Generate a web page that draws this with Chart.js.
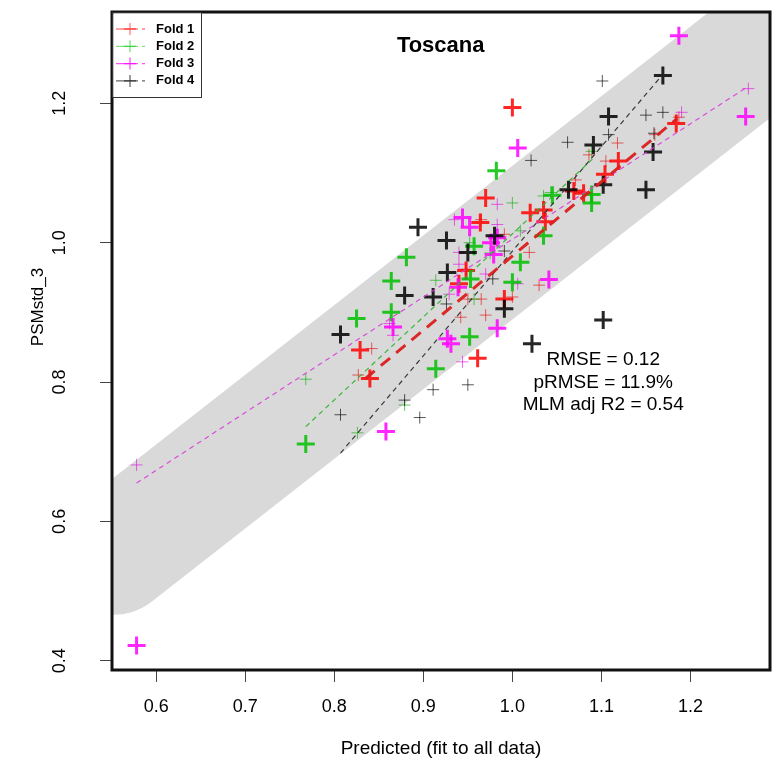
<!DOCTYPE html>
<html>
<head>
<meta charset="utf-8">
<script src="https://cdn.jsdelivr.net/npm/chart.js@4.4.0/dist/chart.umd.min.js"></script>
<style>
html, body { margin: 0; padding: 0; background: #fff; }
</style>
</head>
<body>
<canvas id="myChart" width="782" height="763"></canvas>
<script>
// axis ticks
const xTicks = [0.6, 0.7, 0.8, 0.9, 1.0, 1.1, 1.2];
const yTicks = [0.4, 0.6, 0.8, 1.0, 1.2];

// fold 1 (red)
const f1BigX = [1.000, 0.970, 0.964, 1.020, 1.035, 1.037, 0.948, 0.940, 0.991, 0.829, 0.840, 0.961, 1.069, 1.080, 1.104, 1.119, 1.184];
const f1BigY = [1.194, 1.064, 1.029, 1.043, 1.047, 1.030, 0.960, 0.941, 0.919, 0.846, 0.805, 0.834, 1.074, 1.071, 1.098, 1.117, 1.171];
const f1SmallX = [0.842, 0.827, 1.019, 0.950, 0.965, 0.942, 0.970, 1.030, 1.000, 0.991, 0.948, 1.118, 1.105, 1.086, 1.071, 1.160, 0.965, 1.187];
const f1SmallY = [0.848, 0.810, 0.986, 0.919, 0.919, 0.893, 0.896, 0.939, 0.922, 1.012, 0.962, 1.143, 1.117, 1.126, 1.090, 1.155, 1.033, 1.180];
const f1LineX = [0.835, 1.185];
const f1LineY = [0.805, 1.178];

// fold 2 (green)
const f2BigX = [0.982, 0.881, 0.864, 0.864, 0.825, 0.914, 0.952, 0.957, 0.953, 1.009, 1.000, 1.035, 0.768, 1.089, 1.089, 1.045];
const f2BigY = [1.103, 0.979, 0.945, 0.900, 0.891, 0.819, 0.865, 0.995, 0.948, 0.972, 0.943, 1.010, 0.711, 1.069, 1.057, 1.068];
const f2SmallX = [0.768, 0.826, 0.879, 0.914, 1.000, 0.957, 1.043, 0.952, 1.035, 1.089, 1.009, 0.975];
const f2SmallY = [0.804, 0.727, 0.767, 0.946, 1.057, 0.919, 1.072, 1.000, 1.067, 1.131, 1.017, 0.985];
const f2LineX = [0.768, 1.090];
const f2LineY = [0.736, 1.120];

// fold 3 (magenta)
const f3BigX = [1.187, 1.006, 1.262, 0.578, 0.858, 1.041, 0.983, 0.944, 0.952, 0.866, 0.931, 0.927, 0.983, 0.976, 0.979, 0.939];
const f3BigY = [1.297, 1.136, 1.181, 0.422, 0.729, 0.947, 0.877, 1.036, 1.022, 0.879, 0.855, 0.862, 1.007, 1.000, 0.983, 0.936];
const f3SmallX = [0.578, 1.265, 1.190, 0.983, 0.983, 0.935, 0.940, 0.940, 0.929, 0.970, 1.006, 0.862, 0.866, 0.944];
const f3SmallY = [0.681, 1.221, 1.187, 1.055, 1.026, 1.033, 0.986, 0.969, 0.926, 0.955, 0.941, 0.884, 0.867, 0.829];
const f3LineX = [0.578, 1.262];
const f3LineY = [0.655, 1.222];

// fold 4 (black)
const f4BigX = [1.169, 1.108, 1.091, 1.158, 1.150, 1.102, 1.063, 0.926, 0.980, 0.950, 0.894, 0.927, 0.879, 0.911, 0.807, 0.991, 1.022, 1.102];
const f4BigY = [1.240, 1.181, 1.140, 1.130, 1.076, 1.083, 1.076, 1.003, 1.010, 0.986, 1.022, 0.957, 0.924, 0.922, 0.868, 0.905, 0.855, 0.889];
const f4SmallX = [1.101, 1.150, 1.169, 1.062, 1.021, 1.108, 1.159, 0.950, 0.911, 0.879, 0.807, 0.896, 0.926, 0.978, 0.991];
const f4SmallY = [1.232, 1.183, 1.187, 1.144, 1.118, 1.155, 1.157, 0.796, 0.789, 0.774, 0.753, 0.749, 0.912, 0.948, 0.988];
const f4LineX = [0.807, 1.168];
const f4LineY = [0.698, 1.240];

// 1:1 band
const bandX = [0.553, 1.400];
const bandY = [0.553, 1.400];

const foldNames = ['Fold 1', 'Fold 2', 'Fold 3', 'Fold 4'];
const statLines = ['RMSE = 0.12', 'pRMSE = 11.9%', 'MLM adj R2 = 0.54'];
const statX = 1.102;
const statY = [0.832, 0.799, 0.768];
const titleText = 'Toscana';
const titleX = 0.9195;
const titleY = 1.282;
const yTitle = 'PSMstd_3';

const FONT = "'Liberation Sans', Arial, sans-serif";

const bigCol = ['rgba(255,0,0,0.85)', 'rgba(0,190,0,0.85)', 'rgba(255,0,255,0.85)', 'rgba(0,0,0,0.85)'];
const smallCol = ['rgba(230,0,0,0.6)', 'rgba(0,170,0,0.6)', 'rgba(230,0,230,0.6)', 'rgba(0,0,0,0.65)'];
const lineCol = ['rgba(220,30,30,0.95)', 'rgba(40,180,40,0.9)', 'rgba(220,60,220,0.9)', 'rgba(40,40,40,0.9)'];
const legCol = ['rgba(255,0,0,0.5)', 'rgba(0,200,0,0.5)', 'rgba(255,0,255,0.7)', 'rgba(0,0,0,0.6)'];

function pts(xs, ys) {
    let out = [];
    for (let i = 0; i < xs.length; i++) out.push({x: xs[i], y: ys[i]});
    return out;
}

let datasets = [];
datasets.push({
    label: 'band', data: pts(bandX, bandY), showLine: true, borderColor: '#d9d9d9',
    borderWidth: 121, borderCapStyle: 'round', pointRadius: 0, clip: 0, order: 10
});
const folds = [
    [f1BigX, f1BigY, f1SmallX, f1SmallY, f1LineX, f1LineY],
    [f2BigX, f2BigY, f2SmallX, f2SmallY, f2LineX, f2LineY],
    [f3BigX, f3BigY, f3SmallX, f3SmallY, f3LineX, f3LineY],
    [f4BigX, f4BigY, f4SmallX, f4SmallY, f4LineX, f4LineY]
];
folds.forEach((f, k) => {
    datasets.push({
        label: foldNames[k] + ' train', data: pts(f[2], f[3]), showLine: false,
        pointStyle: 'cross', pointRadius: 6, pointBorderWidth: 1,
        pointBorderColor: smallCol[k], clip: 0, order: 8 - k
    });
    datasets.push({
        label: foldNames[k], data: pts(f[0], f[1]), showLine: false,
        pointStyle: 'cross', pointRadius: 9, pointBorderWidth: 3,
        pointBorderColor: bigCol[k], clip: 0, order: 4 - k * 0.1
    });
    datasets.push({
        label: foldNames[k] + ' fit', data: pts(f[4], f[5]), showLine: true,
        borderColor: lineCol[k], borderWidth: k === 0 ? 3 : 1.2,
        borderDash: k === 0 ? [12, 8] : [5, 4], pointRadius: 0, clip: 0, order: 1
    });
});

function drawCross(ctx, x, y, r) {
    ctx.beginPath();
    ctx.moveTo(x - r, y); ctx.lineTo(x + r, y);
    ctx.moveTo(x, y - r); ctx.lineTo(x, y + r);
    ctx.stroke();
}

const decor = {
    id: 'decor',
    afterDatasetsDraw(chart) {
        const ctx = chart.ctx;
        const a = chart.chartArea;
        const sx = chart.scales.x, sy = chart.scales.y;
        ctx.save();
        // plot frame
        ctx.strokeStyle = '#111';
        ctx.lineWidth = 3;
        ctx.strokeRect(a.left, a.top, a.right - a.left, a.bottom - a.top);

        // legend
        const lx = a.left, ly = a.top;
        ctx.fillStyle = '#fff';
        ctx.fillRect(lx + 1.5, ly + 1.5, 88, 84);
        ctx.lineWidth = 1;
        ctx.strokeStyle = '#333';
        ctx.strokeRect(lx + 0.5, ly + 0.5, 89, 85);
        ctx.font = "bold 13px " + FONT;
        ctx.textBaseline = 'middle';
        ctx.textAlign = 'left';
        foldNames.forEach((n, k) => {
            const yy = ly + 17 + k * 17.3;
            ctx.strokeStyle = legCol[k];
            ctx.lineWidth = 1.3;
            ctx.setLineDash([22, 4, 3, 4]);
            ctx.beginPath();
            ctx.moveTo(lx + 4, yy); ctx.lineTo(lx + 33, yy);
            ctx.stroke();
            ctx.setLineDash([]);
            drawCross(ctx, lx + 18, yy, 6);
            ctx.fillStyle = '#000';
            ctx.fillText(n, lx + 44, yy);
        });

        // title and stats
        ctx.fillStyle = '#000';
        ctx.textAlign = 'center';
        ctx.font = "bold 22px " + FONT;
        ctx.fillText(titleText, sx.getPixelForValue(titleX), sy.getPixelForValue(titleY));
        ctx.font = "19px " + FONT;
        statLines.forEach((s, i) => {
            ctx.fillText(s, sx.getPixelForValue(statX), sy.getPixelForValue(statY[i]));
        });

        // y axis title
        ctx.translate(38, (a.top + a.bottom) / 2 - 34);
        ctx.rotate(-Math.PI / 2);
        ctx.font = "17px " + FONT;
        ctx.fillText(yTitle, 0, 0);
        ctx.restore();
    }
};

new Chart(document.getElementById('myChart'), {
    type: 'scatter',
    data: { datasets: datasets },
    options: {
        responsive: false,
        animation: false,
        layout: { padding: { left: 0, top: 8, right: 8, bottom: 0 } },
        plugins: { legend: { display: false }, tooltip: { enabled: false } },
        scales: {
            x: {
                type: 'linear', min: 0.5504, max: 1.2893,
                afterFit: s => { s.height = 93; s.paddingLeft = 0; s.paddingRight = 0; },
                afterBuildTicks: s => { s.ticks = xTicks.map(v => ({value: v})); },
                grid: { drawOnChartArea: false, tickLength: 12, tickColor: '#444', tickWidth: 1 },
                border: { display: false },
                ticks: { font: { family: FONT, size: 18 }, color: '#000', padding: 14,
                         maxRotation: 0, autoSkip: false, callback: v => v.toFixed(1) },
                title: { display: true, text: 'Predicted (fit to all data)', color: '#000',
                         font: { family: FONT, size: 19 }, padding: { top: 0, bottom: 3 } }
            },
            y: {
                type: 'linear', min: 0.3867, max: 1.331,
                afterFit: s => { s.width = 112; s.paddingTop = 0; s.paddingBottom = 0; },
                afterBuildTicks: s => { s.ticks = yTicks.map(v => ({value: v})); },
                grid: { drawOnChartArea: false, tickLength: 12, tickColor: '#444', tickWidth: 1 },
                border: { display: false },
                ticks: { font: { family: FONT, size: 18 }, color: '#000', padding: 27,
                         minRotation: 90, maxRotation: 90, crossAlign: 'center',
                         autoSkip: false, callback: v => v.toFixed(1) },
                title: { display: false }
            }
        }
    },
    plugins: [decor]
});
</script>
</body>
</html>
